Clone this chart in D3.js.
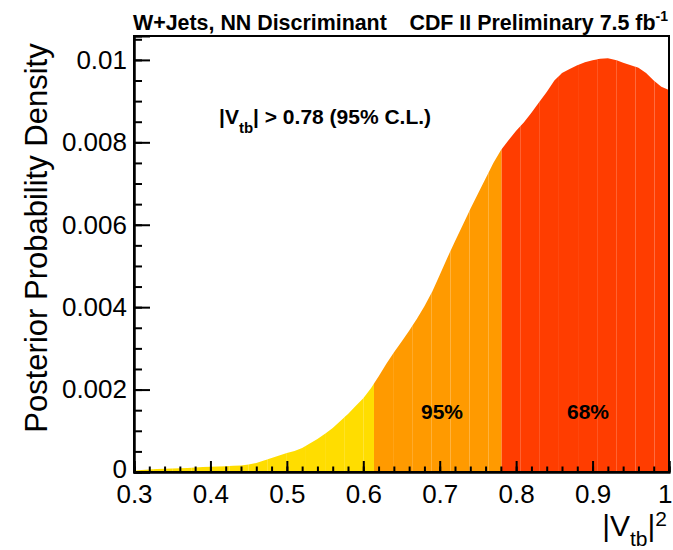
<!DOCTYPE html>
<html>
<head>
<meta charset="utf-8">
<script src="https://cdn.jsdelivr.net/npm/d3@7"></script>
<style>
  html, body { margin: 0; padding: 0; background: #fff; }
  svg { display: block; }
  text { font-family: "Liberation Sans", Arial, Helvetica, sans-serif; fill: #000; }
</style>
</head>
<body>
<svg id="chart" width="673" height="550"></svg>
<script>
// Posterior density of |Vtb|^2, sampled every 0.01
const vtb2 = [
  0.30, 0.31, 0.32, 0.33, 0.34, 0.35, 0.36, 0.37, 0.38, 0.39,
  0.40, 0.41, 0.42, 0.43, 0.44, 0.45, 0.46, 0.47, 0.48, 0.49,
  0.50, 0.51, 0.52, 0.53, 0.54, 0.55, 0.56, 0.57, 0.58, 0.59,
  0.60, 0.61, 0.62, 0.63, 0.64, 0.65, 0.66, 0.67, 0.68, 0.69,
  0.70, 0.71, 0.72, 0.73, 0.74, 0.75, 0.76, 0.77, 0.78, 0.79,
  0.80, 0.81, 0.82, 0.83, 0.84, 0.85, 0.86, 0.87, 0.88, 0.89,
  0.90, 0.91, 0.92, 0.93, 0.94, 0.95, 0.96, 0.97, 0.98, 0.99, 1.00
];
const density = [
  0.00003, 0.00005, 0.00006, 0.00007, 0.00008, 0.000085, 0.00009, 0.00010, 0.00011, 0.00012,
  0.00013, 0.000135, 0.00014, 0.00015, 0.00016, 0.00018, 0.00022, 0.00028, 0.00034, 0.00040,
  0.00046, 0.00051, 0.00058, 0.00069, 0.00080, 0.00093, 0.00107, 0.00124, 0.00141, 0.00160,
  0.00179, 0.00203, 0.00232, 0.00262, 0.00290, 0.00316, 0.00343, 0.00371, 0.00402, 0.00437,
  0.00478, 0.00520, 0.00560, 0.00599, 0.00638, 0.00675, 0.00712, 0.00749, 0.00781, 0.00805,
  0.00828, 0.00848, 0.00872, 0.00897, 0.00922, 0.00950, 0.00968, 0.00978, 0.00987, 0.00994,
  0.00999, 0.01003, 0.01004, 0.01000, 0.00993, 0.00987, 0.00981, 0.00968, 0.00950, 0.00935, 0.00927
];

// Credible-interval bands: edges, colours, labels
const bandNames  = ["outside", "95%", "68%"];
const bandEdges  = [[0.30, 0.614], [0.614, 0.781], [0.781, 1.00]];
const bandColors = ["#ffdd00", "#ff9a00", "#ff3d00"];

const xMajorTicks = [0.3, 0.4, 0.5, 0.6, 0.7, 0.8, 0.9, 1.0];
const yMajorTicks = [0, 0.002, 0.004, 0.006, 0.008, 0.01];
const yTickLabels = ["0", "0.002", "0.004", "0.006", "0.008", "0.01"];

(function draw() {
  const data = vtb2.map((v, i) => ({ x: v, y: density[i] }));

  const svg = d3.select("#chart");
  const pl = 134, pr = 669, pt = 36, pb = 472;
  const x = d3.scaleLinear().domain([0.3, 1.0]).range([pl, pr]);
  const y = d3.scaleLinear().domain([0, 0.01058]).range([pb, pt]);

  const area = d3.area()
    .x(d => x(d.x))
    .y0(y(0))
    .y1(d => y(d.y));

  // Filled bands, each cut into narrow strips
  const defs = svg.append("defs");
  const fills = svg.append("g");
  let clipId = 0;
  bandEdges.forEach((edge, b) => {
    const strip = 0.025;
    for (let s = edge[0]; s < edge[1] - 1e-9; s += strip) {
      const e = Math.min(s + strip, edge[1]);
      const id = "clip" + (clipId++);
      defs.append("clipPath").attr("id", id)
        .append("rect")
        .attr("x", x(s)).attr("y", 0)
        .attr("width", x(e) - x(s)).attr("height", pb + 2);
      fills.append("path")
        .datum(data)
        .attr("d", area)
        .attr("fill", bandColors[b])
        .attr("clip-path", `url(#${id})`);
    }
  });

  // Frame
  svg.append("rect")
    .attr("x", pl).attr("y", pt)
    .attr("width", pr - pl).attr("height", pb - pt)
    .attr("fill", "none").attr("stroke", "#000").attr("stroke-width", 2);

  // Y axis
  const yMinor = d3.range(0, 0.01058, 0.0005);
  const yAxisMinor = svg.append("g").attr("transform", `translate(${pl},0)`)
    .call(d3.axisLeft(y).tickValues(yMinor).tickSize(-8).tickFormat(""));
  const yAxis = svg.append("g").attr("transform", `translate(${pl},0)`)
    .call(d3.axisLeft(y).tickValues(yMajorTicks).tickSize(-16)
      .tickPadding(7).tickFormat((d, i) => yTickLabels[i]));

  // X axis
  const xMinor = d3.range(0.3, 1.0001, 0.02);
  const xAxisMinor = svg.append("g").attr("transform", `translate(0,${pb})`)
    .call(d3.axisBottom(x).tickValues(xMinor).tickSize(-5.5).tickFormat(""));
  const xAxis = svg.append("g").attr("transform", `translate(0,${pb})`)
    .call(d3.axisBottom(x).tickValues(xMajorTicks).tickSize(-11)
      .tickPadding(13).tickFormat(d => d === 1 ? "1" : d3.format(".1f")(d)));

  [yAxisMinor, yAxis, xAxisMinor, xAxis].forEach(g => {
    g.select(".domain").attr("stroke", "#000").attr("stroke-width", 2);
    g.selectAll(".tick line").attr("stroke", "#000").attr("stroke-width", 2);
  });
  yAxis.selectAll(".tick text").attr("font-size", 26).attr("font-family", "Liberation Sans, Arial, sans-serif");
  xAxis.selectAll(".tick text").attr("font-size", 26).attr("font-family", "Liberation Sans, Arial, sans-serif");
  // keep the corner labels apart and inside the canvas
  yAxis.selectAll(".tick text").filter(d => d === 0).attr("y", -3);
  xAxis.selectAll(".tick text").filter(d => d === 1)
    .attr("text-anchor", "end").attr("x", 3);

  // Axis titles
  svg.append("text")
    .attr("transform", `translate(47,238) rotate(-90)`)
    .attr("text-anchor", "middle")
    .attr("font-size", 31)
    .text("Posterior Probability Density");

  const xt = svg.append("text")
    .attr("x", 667).attr("y", 536)
    .attr("text-anchor", "end")
    .attr("font-size", 30);
  xt.append("tspan").text("|V");
  xt.append("tspan").attr("font-size", 21).attr("dy", 10).text("tb");
  xt.append("tspan").attr("dy", -10).text("|");
  xt.append("tspan").attr("font-size", 21).attr("dy", -10).text("2");

  // Header
  svg.append("text")
    .attr("x", 133).attr("y", 30)
    .attr("font-size", 21.4).attr("font-weight", "bold")
    .text("W+Jets, NN Discriminant");
  const hdr = svg.append("text")
    .attr("x", 668).attr("y", 30)
    .attr("text-anchor", "end")
    .attr("font-size", 21.4).attr("font-weight", "bold");
  hdr.append("tspan").text("CDF II Preliminary 7.5 fb");
  hdr.append("tspan").attr("font-size", 14).attr("dy", -9).text("-1");

  // Limit annotation
  const lim = svg.append("text")
    .attr("x", 219).attr("y", 124)
    .attr("font-size", 21).attr("font-weight", "bold");
  lim.append("tspan").text("|V");
  lim.append("tspan").attr("font-size", 15).attr("dy", 9).text("tb");
  lim.append("tspan").attr("dy", -9).text("| > 0.78 (95% C.L.)");

  // Band labels
  svg.append("text")
    .attr("x", 442).attr("y", 419)
    .attr("text-anchor", "middle")
    .attr("font-size", 21).attr("font-weight", "bold")
    .text(bandNames[1]);
  svg.append("text")
    .attr("x", 588).attr("y", 419)
    .attr("text-anchor", "middle")
    .attr("font-size", 21).attr("font-weight", "bold")
    .text(bandNames[2]);
})();
</script>
</body>
</html>
